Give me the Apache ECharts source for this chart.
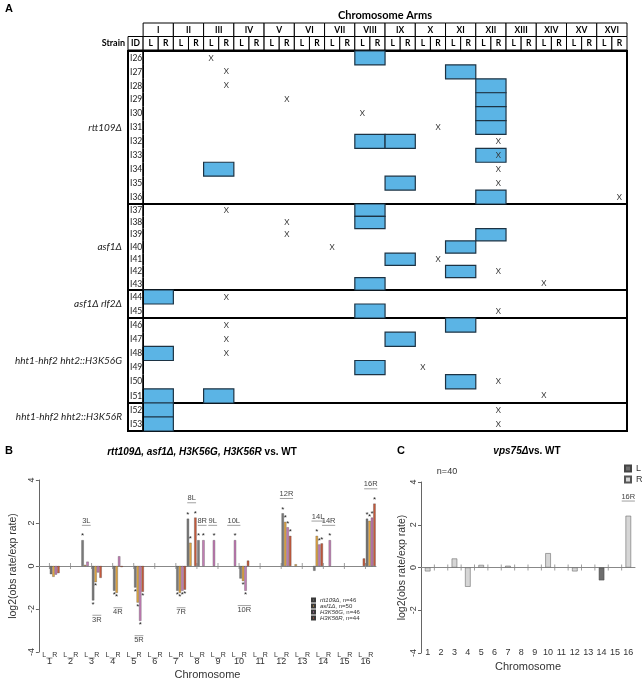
<!DOCTYPE html>
<html><head><meta charset="utf-8">
<script src="https://cdn.jsdelivr.net/npm/echarts@6/dist/echarts.min.js"></script>
<style>html,body{margin:0;padding:0;background:#fff}#c{width:642px;height:682px}</style>
</head><body><div id="c"></div>
<script>
// ---------------- Panel A data ----------------
const romans = ['I','II','III','IV','V','VI','VII','VIII','IX','X','XI','XII','XIII','XIV','XV','XVI'];
const groupNames = ['rtt109Δ','asf1Δ','asf1Δ rlf2Δ','hht1-hhf2 hht2::H3K56G','hht1-hhf2 hht2::H3K56R'];
const groupStrains = [
  ['I26','I27','I28','I29','I30','I31','I32','I33','I34','I35','I36'],
  ['I37','I38','I39','I40','I41','I42','I43'],
  ['I44','I45'],
  ['I46','I47','I48','I49','I50','I51'],
  ['I52','I53']
];
// whole-chromosome (blue) cells: [strain, chromosome]
const aneuploidies = [
  ['I26','VIII'],['I27','XI'],['I28','XII'],['I29','XII'],['I30','XII'],['I31','XII'],
  ['I32','VIII'],['I32','IX'],['I33','XII'],['I34','III'],['I35','IX'],['I36','XII'],
  ['I37','VIII'],['I38','VIII'],['I39','XII'],['I40','XI'],['I41','IX'],['I42','XI'],['I43','VIII'],
  ['I44','I'],['I45','VIII'],
  ['I46','XI'],['I47','IX'],['I48','I'],['I49','VIII'],['I50','XI'],['I51','I'],['I51','III'],
  ['I52','I'],['I53','I']
];
// arm events (X): [strain, chromosome, arm]
const armEvents = [
  ['I26','III','L'],['I27','III','R'],['I28','III','R'],['I29','V','R'],['I30','VIII','L'],['I31','X','R'],
  ['I32','XII','R'],['I33','XII','R'],['I34','XII','R'],['I35','XII','R'],['I36','XVI','R'],
  ['I37','III','R'],['I38','V','R'],['I39','V','R'],['I40','VII','L'],['I41','X','R'],['I42','XII','R'],['I43','XIV','L'],
  ['I44','III','R'],['I45','XII','R'],
  ['I46','III','R'],['I47','III','R'],['I48','III','R'],['I49','X','L'],['I50','XII','R'],['I51','XIV','L'],
  ['I52','XII','R'],['I53','XII','R']
];

// ---------------- Panel B data ----------------
const chromNums = ['1','2','3','4','5','6','7','8','9','10','11','12','13','14','15','16'];
const armSlots = chromNums.flatMap(c => [c + 'L', c + 'R']);
const seriesNamesB = ['rtt109Δ','asf1Δ','H3K56G','H3K56R'];
const seriesCountsB = [46, 50, 46, 44];
const rtt109 = [null,-0.38, null,null, 1.2,-1.6, null,-1.15, null,-1.0, null,null, null,-1.15, 2.2,1.2, null,null, null,-0.58, null,null, null,2.45, null,null, -0.22,null, null,null, null,2.2];
const asf1   = [null,-0.5, null,null, 0.05,-0.75, null,-1.25, null,-1.7, null,null, null,-1.25, 1.08,null, null,null, null,-0.7, null,null, null,2.05, 0.08,null, 1.4,null, null,null, null,2.1];
const h3k56g = [null,-0.4, null,null, 0.2,-0.3, null,0.45, null,-2.55, null,null, null,-1.15, null,1.2, 1.2,null, 1.2,-1.15, null,null, null,1.8, null,null, 1.0,1.2, null,null, null,2.25];
const h3k56r = [null,-0.33, null,null, null,-0.55, null,-0.05, null,-1.2, null,null, null,-1.1, 2.25,null, null,null, null,0.25, null,null, null,1.4, null,null, 1.05,null, null,null, 0.35,2.9];
const sigRtt109 = ['3L','3R','4R','5R','7R','8L','8R','12R','16R'];
const sigAsf1   = ['3R','4R','5R','7R','8L','10R','12R','14L','16R'];
const sigH3K56G = ['5R','7R','8R','9L','10L','10R','12R','14L','14R','16R'];
const sigH3K56R = ['5R','7R','8L','12R','14L','16R'];
const calloutsB = ['3L','3R','4R','5R','7R','8L','8R','9L','10L','10R','12R','14L','14R','16R'];

// ---------------- Panel C data ----------------
const vpsL = [null,null,null,null,null,null,null,null,null,null,null,null,null,-0.6,null,null];
const vpsR = [-0.18,null,0.42,-0.9,0.12,null,0.08,null,null,0.67,null,-0.18,null,null,null,2.42];
const calloutsC = ['16R'];

// ---------------- build ----------------
const FA = 'Lato, "Open Sans", sans-serif';
const FB = '"Liberation Sans", Arial, sans-serif';
const armCols = ['ID'].concat(romans.flatMap(r => [r + 'L', r + 'R']));

const grid = [], xAxis = [], yAxis = [], series = [];

// header grid
grid.push({left:128, width:499, top:23, height:27, show:false});
xAxis.push({type:'category', data:armCols, gridIndex:0, show:false});
yAxis.push({type:'category', data:['roman','arm'], inverse:true, gridIndex:0, show:false});
const headerCells = [{col:0,row:1,span:1,text:'ID'}];
romans.forEach((r,i) => {
  headerCells.push({col:1+2*i,row:0,span:2,text:r});
  headerCells.push({col:1+2*i,row:1,span:1,text:'L'});
  headerCells.push({col:2+2*i,row:1,span:1,text:'R'});
});
series.push({
  type:'custom', xAxisIndex:0, yAxisIndex:0, silent:true,
  data: headerCells.map(c => [c.col, c.row]),
  renderItem: (params, api) => {
    const cell = headerCells[params.dataIndex];
    const p = api.coord([api.value(0), api.value(1)]);
    const s = api.size([1,1]);
    const x0 = p[0]-s[0]/2, y0 = p[1]-s[1]/2, w = s[0]*cell.span;
    return {type:'group', children:[
      {type:'rect', shape:{x:x0,y:y0,width:w,height:s[1]}, style:{fill:'#fff',stroke:'#000',lineWidth:1}},
      {type:'text', style:{text:cell.text, x:x0+w/2, y:p[1]+0.5, align:'center', verticalAlign:'middle',
        font:'bold 8.5px ' + FA, fill:'#000'}}
    ]};
  }
});

// strain group grids
const groupLayout = [[51,153],[204,86],[290,28],[318,85],[403,28]];
groupStrains.forEach((strains, g) => {
  const gi = grid.length;
  grid.push({left:128, width:499, top:groupLayout[g][0], height:groupLayout[g][1], show:true,
    borderColor:'#000', borderWidth:2, backgroundColor:'rgba(0,0,0,0)'});
  xAxis.push({type:'category', data:armCols, gridIndex:gi, show:false});
  yAxis.push({type:'category', data:strains, inverse:true, gridIndex:gi,
    axisLine:{show:false}, axisTick:{show:false}, axisLabel:{show:false}, splitLine:{show:false},
    name:groupNames[g], nameLocation:'middle', nameGap:6, nameRotate:0,
    nameTextStyle:{align:'right', verticalAlign:'middle', fontStyle:'italic', fontSize:10, fontFamily:FA, color:'#222'}});
  const items = [];
  aneuploidies.filter(a => strains.includes(a[0])).forEach(a => {
    items.push([1 + 2*romans.indexOf(a[1]), strains.indexOf(a[0]), 1]);
  });
  armEvents.filter(a => strains.includes(a[0])).forEach(a => {
    items.push([1 + 2*romans.indexOf(a[1]) + (a[2]==='R'?1:0), strains.indexOf(a[0]), 2]);
  });
  strains.forEach((s, i) => items.push([0, i, 0]));
  series.push({
    type:'custom', xAxisIndex:gi, yAxisIndex:gi, silent:true, data:items,
    renderItem: (params, api) => {
      const col = api.value(0), row = api.value(1), kind = api.value(2);
      const p = api.coord([col, row]);
      const s = api.size([1,1]);
      const x0 = p[0]-s[0]/2, y0 = p[1]-s[1]/2;
      if (kind === 1) return {type:'rect', shape:{x:x0,y:y0,width:s[0]*2,height:s[1]},
        style:{fill:'#5bb4e5', stroke:'#1c3344', lineWidth:1.2}};
      if (kind === 2) return {type:'text', style:{text:'X', x:p[0], y:p[1], align:'center', verticalAlign:'middle',
        font:'8px ' + FA, fill:'#333'}};
      return {type:'group', children:[
        {type:'text', style:{text:strains[row], x:x0+2, y:p[1], align:'left', verticalAlign:'middle',
          font:'8.5px ' + FA, fill:'#222'}},
        {type:'line', shape:{x1:x0+s[0], y1:y0, x2:x0+s[0], y2:y0+s[1]}, style:{stroke:'#000', lineWidth:1.8}}
      ]};
    }
  });
});

// ---------------- Panel B ----------------
const GB = grid.length;
grid.push({left:29, right:266, top:480, bottom:30, show:false});
const XB = xAxis.length;
xAxis.push({type:'category', data:armSlots, gridIndex:GB,
  axisLine:{show:true, onZero:true, lineStyle:{color:'#888', width:1}}, axisTick:{show:false}, axisLabel:{show:false}});
xAxis.push({type:'category', data:armSlots, gridIndex:GB, position:'bottom',
  axisLine:{show:false, onZero:false}, axisTick:{show:false},
  axisLabel:{show:true, interval:0, margin:0, fontSize:7, fontFamily:FB, color:'#333', formatter: v => v.slice(-1)}});
xAxis.push({type:'category', data:chromNums, gridIndex:GB, position:'bottom',
  axisLine:{show:false, onZero:false}, axisTick:{show:false},
  axisLabel:{show:true, interval:0, margin:5.5, fontSize:9, fontFamily:FB, color:'#333'},
  name:'Chromosome', nameLocation:'middle', nameGap:17, nameTextStyle:{fontSize:11, fontFamily:FB, color:'#333'}});
const YB = yAxis.length;
yAxis.push({type:'value', min:-4, max:4, interval:2, gridIndex:GB,
  axisLine:{show:true, lineStyle:{color:'#666'}}, axisTick:{show:true, length:3, lineStyle:{color:'#666'}},
  splitLine:{show:false},
  axisLabel:{rotate:90, margin:3, fontSize:9, fontFamily:FB, color:'#333'},
  name:'log2(obs rate/exp rate)', nameLocation:'middle', nameRotate:90, nameGap:13,
  nameTextStyle:{fontSize:10.5, fontFamily:FB, color:'#333'}});

const colorsB = ['#7b7b7b','#e2a541','#c47db6','#c65a3c'];
const valsB = [rtt109, asf1, h3k56g, h3k56r];
const sigB = [sigRtt109, sigAsf1, sigH3K56G, sigH3K56R];
valsB.forEach((vals, k) => {
  series.push({
    type:'bar', name:seriesNamesB[k], xAxisIndex:XB, yAxisIndex:YB,
    barWidth:2.3, barGap:'8%', silent:true,
    itemStyle:{color:colorsB[k], borderColor:'#3a3a3a', borderWidth:0.3},
    label:{show:false, formatter:'*', fontSize:8, distance:0, color:'#222', fontFamily:FB},
    data: vals.map((v, i) => v === null ? null : {
      value:v, label:{show: sigB[k].includes(armSlots[i]), position: v < 0 ? 'bottom' : 'top'}
    })
  });
});

function extremeAt(idx, lists) {
  let mx = 0, mn = 0;
  lists.forEach(l => { const v = l[idx]; if (v !== null) { mx = Math.max(mx, v); mn = Math.min(mn, v); } });
  return { mx, mn };
}
function calloutSeries(labels, positions, xi, yi) {
  return {
    type:'custom', xAxisIndex:xi, yAxisIndex:yi, silent:true, data:positions,
    renderItem: (params, api) => {
      const t = labels[params.dataIndex];
      const p = api.coord([api.value(0), api.value(1)]);
      const sign = api.value(2);
      const w = t.length * 4.4;
      const ly = sign > 0 ? p[1] + 4.5 : p[1] - 4.5;
      return {type:'group', children:[
        {type:'text', style:{text:t, x:p[0], y:p[1], align:'center', verticalAlign:'middle', font:'7.5px ' + FB, fill:'#444'}},
        {type:'line', shape:{x1:p[0]-w/2, y1:ly, x2:p[0]+w/2, y2:ly}, style:{stroke:'#777', lineWidth:0.7}}
      ]};
    }
  };
}
series.push(calloutSeries(calloutsB, calloutsB.map(a => {
  const idx = armSlots.indexOf(a);
  const e = extremeAt(idx, valsB);
  const positive = e.mx >= -e.mn;
  return [idx, positive ? e.mx + 0.9 : e.mn - 0.9, positive ? 1 : -1];
}), XB, YB));
// ticks on zero line at chromosome centres
series.push({
  type:'custom', xAxisIndex:XB+2, yAxisIndex:YB, silent:true,
  data: chromNums.map((c, i) => [i, 0]),
  renderItem: (params, api) => {
    const p = api.coord([api.value(0), api.value(1)]);
    return {type:'line', shape:{x1:p[0], y1:p[1]-3, x2:p[0], y2:p[1]+3}, style:{stroke:'#888', lineWidth:0.8}};
  }
});
// L_R underline bracket
series.push({
  type:'custom', xAxisIndex:XB+2, yAxisIndex:YB, silent:true,
  data: chromNums.map((c, i) => [i, -4]),
  renderItem: (params, api) => {
    const p = api.coord([api.value(0), api.value(1)]);
    return {type:'line', shape:{x1:p[0]-3, y1:p[1]+6, x2:p[0]+3, y2:p[1]+6}, style:{stroke:'#555', lineWidth:0.7}};
  }
});

// ---------------- Panel C ----------------
const GC = grid.length;
grid.push({left:421, right:7, top:482, bottom:29, show:false});
const XC = xAxis.length;
xAxis.push({type:'category', data:chromNums, gridIndex:GC,
  axisLine:{show:true, onZero:true, lineStyle:{color:'#888', width:1}}, axisTick:{show:false}, axisLabel:{show:false}});
xAxis.push({type:'category', data:chromNums, gridIndex:GC, position:'bottom',
  axisLine:{show:false, onZero:false}, axisTick:{show:false},
  axisLabel:{show:true, interval:0, margin:0, verticalAlign:'middle', fontSize:9, fontFamily:FB, color:'#333'},
  name:'Chromosome', nameLocation:'middle', nameGap:8, nameTextStyle:{fontSize:11, fontFamily:FB, color:'#333'}});
const YC = yAxis.length;
yAxis.push({type:'value', min:-4, max:4, interval:2, gridIndex:GC,
  axisLine:{show:true, lineStyle:{color:'#666'}}, axisTick:{show:true, length:3, lineStyle:{color:'#666'}},
  splitLine:{show:false},
  axisLabel:{rotate:90, margin:3, fontSize:9, fontFamily:FB, color:'#333'},
  name:'log2(obs rate/exp rate)', nameLocation:'middle', nameRotate:90, nameGap:13,
  nameTextStyle:{fontSize:10.5, fontFamily:FB, color:'#333'}});
series.push({type:'bar', name:'L', xAxisIndex:XC, yAxisIndex:YC, barWidth:5.5, barGap:'-100%', silent:true,
  itemStyle:{color:'#6e6e6e', borderColor:'#444', borderWidth:0.5}, data:vpsL});
series.push({type:'bar', name:'R', xAxisIndex:XC, yAxisIndex:YC, barWidth:5.5, barGap:'-100%', silent:true,
  itemStyle:{color:'#d6d6d6', borderColor:'#555', borderWidth:0.5}, data:vpsR});
series.push(calloutSeries(calloutsC, calloutsC.map(a => {
  const idx = chromNums.indexOf(a.slice(0, -1));
  const e = extremeAt(idx, a.slice(-1) === 'L' ? [vpsL] : [vpsR]);
  const positive = e.mx >= -e.mn;
  return [idx, positive ? e.mx + 0.9 : e.mn - 0.9, positive ? 1 : -1];
}), XC, YC));
series.push({
  type:'custom', xAxisIndex:XC, yAxisIndex:YC, silent:true,
  data: chromNums.slice(1).map((c, i) => [i + 1, 0]),
  renderItem: (params, api) => {
    const p = api.coord([api.value(0), api.value(1)]);
    const s = api.size([1, 0]);
    const x = p[0] - s[0]/2;
    return {type:'line', shape:{x1:x, y1:p[1]-3, x2:x, y2:p[1]+3}, style:{stroke:'#888', lineWidth:0.8}};
  }
});

const option = {
  animation:false,
  backgroundColor:'#fff',
  grid, xAxis, yAxis, series,
  legend:[
    {data:seriesNamesB, left:311, top:597, orient:'vertical', icon:'rect', itemWidth:3, itemHeight:3, itemGap:0, padding:0,
     selectedMode:false,
     formatter: n => '{i|' + n + '}, n=' + seriesCountsB[seriesNamesB.indexOf(n)],
     textStyle:{fontSize:6, lineHeight:4.6, fontFamily:FB, color:'#333',
       rich:{i:{fontStyle:'italic', fontSize:6, lineHeight:4.6, fontFamily:FB, color:'#333'}}}},
    {data:['L','R'], left:624, top:464, orient:'vertical', icon:'rect', itemWidth:6, itemHeight:6, itemGap:2, padding:0,
     selectedMode:false, textStyle:{fontSize:9, fontFamily:FB, color:'#333'}}
  ],
  graphic:[
    {type:'text', x:5, y:9, style:{text:'A', font:'bold 11px ' + FB, fill:'#000', verticalAlign:'middle'}},
    {type:'text', x:385, y:15, style:{text:'Chromosome Arms', font:'bold 11px ' + FA, fill:'#000', align:'center', verticalAlign:'middle'}},
    {type:'text', x:125, y:43.5, style:{text:'Strain', font:'bold 9px ' + FA, fill:'#000', align:'right', verticalAlign:'middle'}},
    {type:'text', x:5, y:451, style:{text:'B', font:'bold 11px ' + FB, fill:'#000', verticalAlign:'middle'}},
    {type:'text', x:202, y:452, style:{text:'{i|rtt109Δ, asf1Δ, H3K56G, H3K56R}{n| vs. WT}', align:'center', verticalAlign:'middle',
      font:'bold 10px ' + FB, fill:'#000',
      rich:{i:{fontStyle:'italic', fontWeight:'bold', fontSize:10, fontFamily:FB, fill:'#000'},
            n:{fontWeight:'bold', fontSize:10, fontFamily:FB, fill:'#000'}}}},
    {type:'text', x:397, y:451, style:{text:'C', font:'bold 11px ' + FB, fill:'#000', verticalAlign:'middle'}},
    {type:'text', x:527, y:451, style:{text:'{i|vps75Δ}{n|vs. WT}', align:'center', verticalAlign:'middle',
      font:'bold 10px ' + FB, fill:'#000',
      rich:{i:{fontStyle:'italic', fontWeight:'bold', fontSize:10, fontFamily:FB, fill:'#000'},
            n:{fontWeight:'bold', fontSize:10, fontFamily:FB, fill:'#000'}}}},
    {type:'text', x:447, y:472, style:{text:'n=40', font:'9px ' + FB, fill:'#333', align:'center', verticalAlign:'middle'}}
  ]
};
const chart = echarts.init(document.getElementById('c'), null, {renderer:'canvas'});
chart.setOption(option);
</script>
</body></html>
